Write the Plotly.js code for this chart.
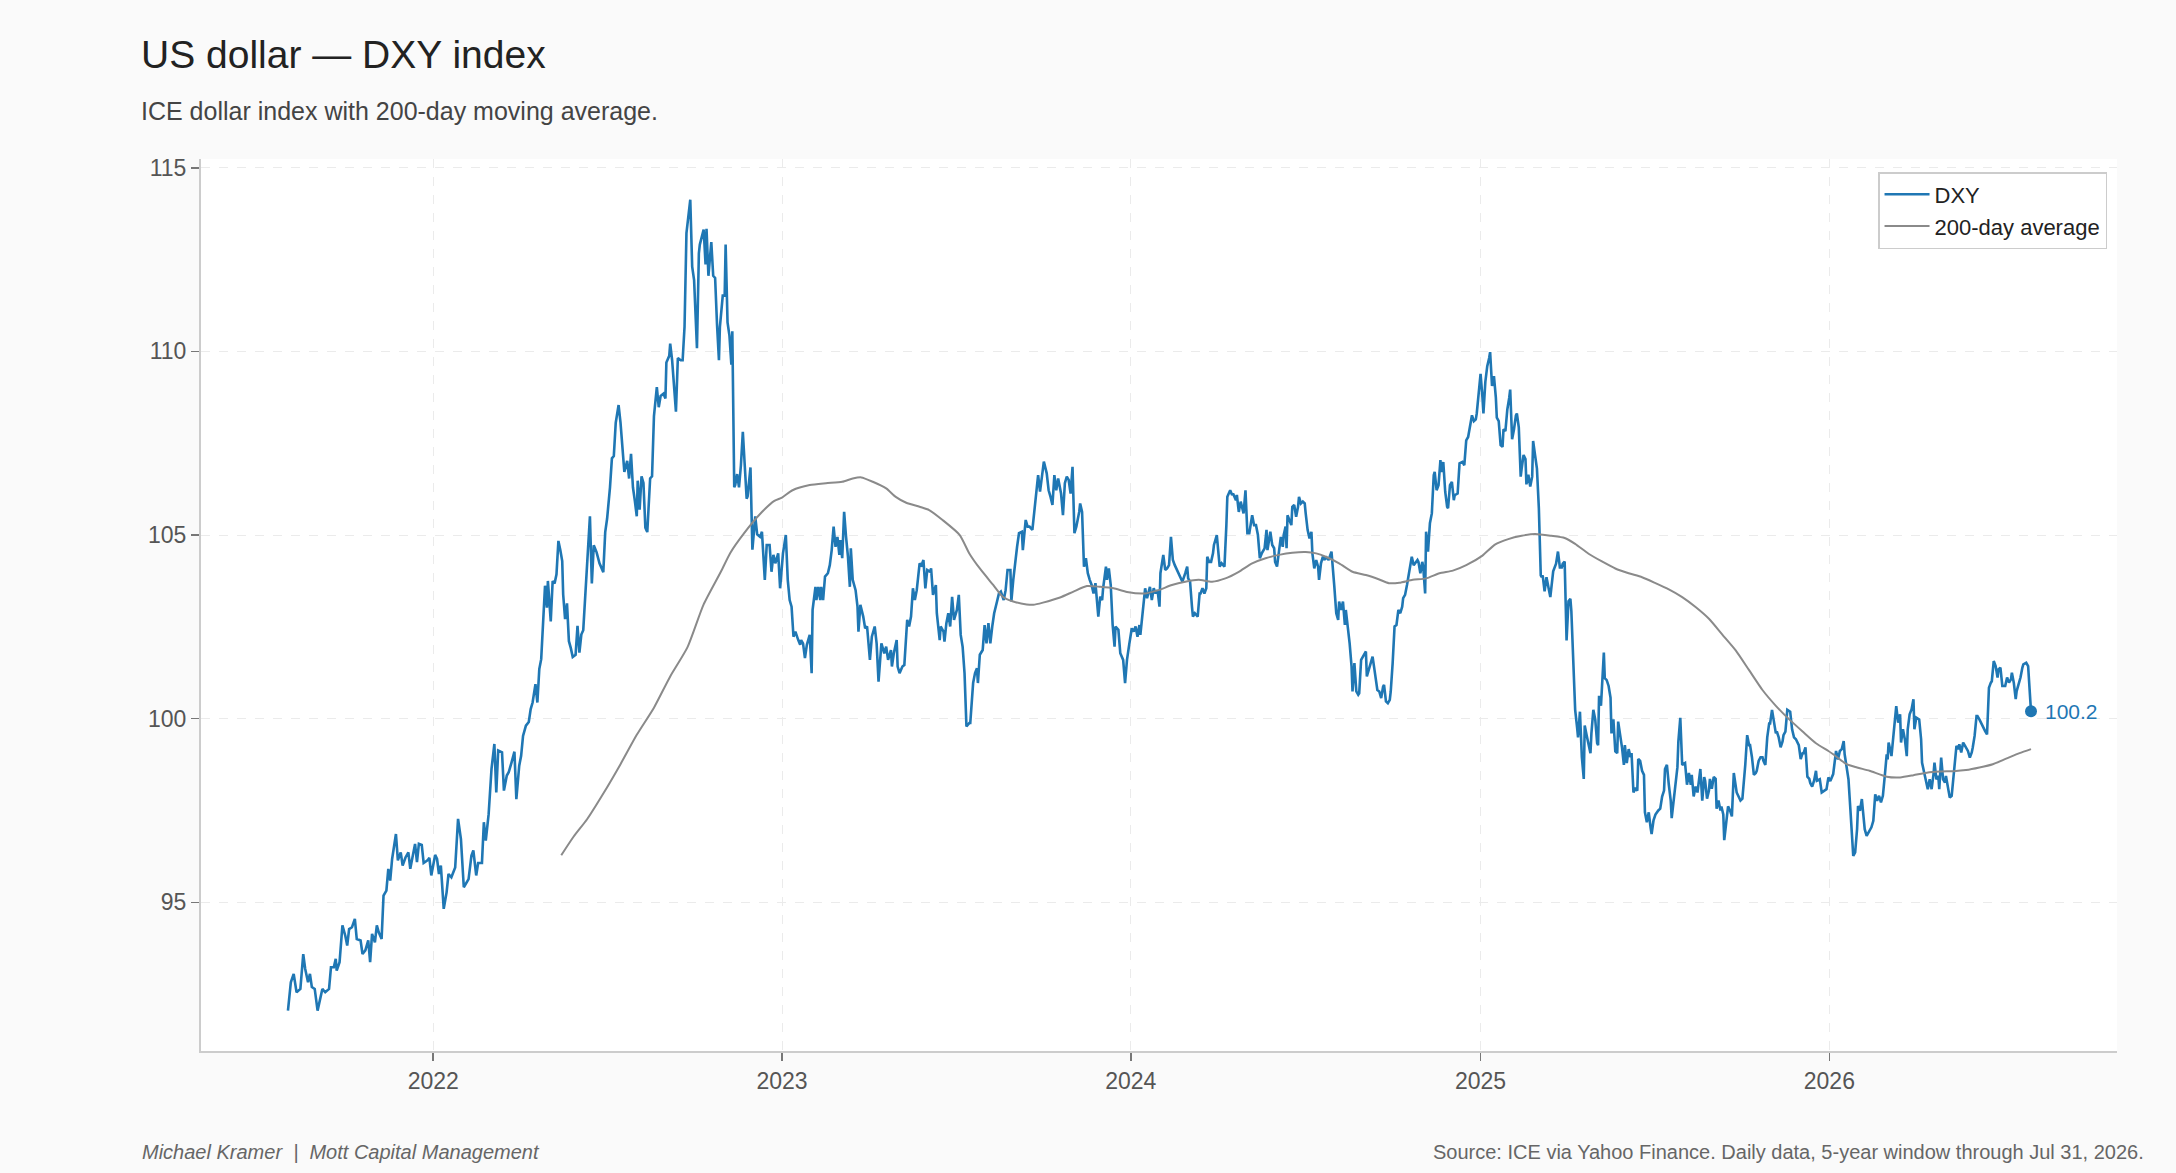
<!DOCTYPE html>
<html>
<head>
<meta charset="utf-8">
<script src="https://cdn.plot.ly/plotly-3.0.1.min.js"></script>
<style>
  html, body { margin: 0; padding: 0; background: #fafafa; }
  #chart { width: 2176px; height: 1173px; }
</style>
</head>
<body>
<div id="chart"></div>
<script>
// DXY closes, grouped by year (dates and values line up month by month)
const dates2021 = [
  '2021-08-02','2021-08-03','2021-08-05','2021-08-08','2021-08-11','2021-08-15','2021-08-18','2021-08-20','2021-08-23','2021-08-25','2021-08-27','2021-08-30',
  '2021-09-02','2021-09-07','2021-09-10','2021-09-14','2021-09-16','2021-09-19','2021-09-21','2021-09-22','2021-09-25','2021-09-28',
  '2021-10-01','2021-10-03','2021-10-05','2021-10-08','2021-10-11','2021-10-13','2021-10-17','2021-10-19','2021-10-22','2021-10-25','2021-10-27','2021-10-29',
  '2021-11-01','2021-11-03','2021-11-05','2021-11-08','2021-11-10','2021-11-13','2021-11-15','2021-11-17','2021-11-19','2021-11-23','2021-11-25','2021-11-28','2021-11-30',
  '2021-12-03','2021-12-06','2021-12-08','2021-12-11','2021-12-13','2021-12-15','2021-12-17','2021-12-20','2021-12-22','2021-12-26','2021-12-28','2021-12-30'
];
const values2021 = [
  92.05,92.28,92.82,93.05,92.55,92.64,93.59,93.19,92.82,93.05,92.69,92.64,
  92.05,92.64,92.55,92.64,93.23,93.23,93.46,93.14,93.37,94.37,
  94.09,93.82,94.27,94.32,94.55,94.00,93.96,93.59,93.69,93.96,93.37,94.14,
  93.91,94.37,94.18,94.00,95.18,95.32,95.91,95.59,96.18,96.86,96.14,96.36,96.00,
  96.22,96.36,95.91,96.32,96.59,96.09,96.59,96.56,96.07,96.14,96.21,95.73
];

const dates2022 = [
  '2022-01-03','2022-01-05','2022-01-07','2022-01-09','2022-01-12','2022-01-15','2022-01-17','2022-01-20','2022-01-24','2022-01-27','2022-01-30',
  '2022-02-02','2022-02-04','2022-02-07','2022-02-10','2022-02-12','2022-02-15','2022-02-17','2022-02-21','2022-02-23','2022-02-25','2022-02-28',
  '2022-03-03','2022-03-06','2022-03-08','2022-03-10','2022-03-14','2022-03-16','2022-03-19','2022-03-21','2022-03-24','2022-03-27','2022-03-29',
  '2022-04-01','2022-04-03','2022-04-05','2022-04-08','2022-04-11','2022-04-13','2022-04-15','2022-04-18','2022-04-20','2022-04-22','2022-04-24','2022-04-28','2022-04-30',
  '2022-05-01','2022-05-04','2022-05-06','2022-05-08','2022-05-10','2022-05-12','2022-05-14','2022-05-16','2022-05-17','2022-05-19','2022-05-21','2022-05-23','2022-05-25','2022-05-27','2022-05-30',
  '2022-06-01','2022-06-03','2022-06-05','2022-06-07','2022-06-11','2022-06-14','2022-06-16','2022-06-18','2022-06-21','2022-06-24','2022-06-28','2022-06-30',
  '2022-07-02','2022-07-05','2022-07-07','2022-07-09','2022-07-11','2022-07-14','2022-07-16','2022-07-19','2022-07-20','2022-07-23','2022-07-25','2022-07-27','2022-07-29','2022-07-31',
  '2022-08-02','2022-08-03','2022-08-05','2022-08-07','2022-08-09','2022-08-11','2022-08-13','2022-08-15','2022-08-16','2022-08-18','2022-08-20','2022-08-23','2022-08-25','2022-08-27','2022-08-30',
  '2022-09-01','2022-09-02','2022-09-05','2022-09-06','2022-09-08','2022-09-10','2022-09-12','2022-09-14','2022-09-17','2022-09-19','2022-09-21','2022-09-23','2022-09-27','2022-09-29',
  '2022-10-01','2022-10-04','2022-10-06','2022-10-07','2022-10-11','2022-10-13','2022-10-14','2022-10-16','2022-10-19','2022-10-21','2022-10-23','2022-10-25','2022-10-27','2022-10-28','2022-10-31',
  '2022-11-02','2022-11-03','2022-11-05','2022-11-07','2022-11-09','2022-11-10','2022-11-12','2022-11-13','2022-11-15','2022-11-17','2022-11-19','2022-11-21','2022-11-23','2022-11-25','2022-11-26','2022-11-29',
  '2022-12-01','2022-12-04','2022-12-06','2022-12-09','2022-12-11','2022-12-14','2022-12-16','2022-12-19','2022-12-21','2022-12-23','2022-12-25','2022-12-28','2022-12-30'
];
const values2022 = [
  96.29,96.18,95.77,96.00,94.82,95.27,95.77,95.68,95.95,97.27,96.72,
  95.41,95.50,95.63,96.27,96.41,95.73,96.07,96.07,97.18,96.68,97.40,
  98.63,99.31,97.99,99.13,99.08,98.04,98.45,98.54,98.81,99.10,97.81,
  98.72,98.99,99.53,99.81,99.91,100.26,100.44,100.94,100.44,101.35,101.62,103.62,103.02,
  103.75,102.65,103.75,103.68,103.93,104.84,104.59,104.29,103.38,102.71,103.14,102.11,101.92,101.68,101.74,
  102.53,101.80,102.29,102.41,104.23,105.51,103.68,104.72,104.53,104.23,103.99,105.08,
  105.45,106.30,107.09,107.15,108.06,108.54,108.06,107.02,106.72,107.02,106.54,107.21,106.30,105.93,
  105.51,106.48,105.69,106.60,106.42,105.20,105.08,106.05,106.54,106.60,108.24,109.03,108.48,108.79,108.85,
  108.72,109.70,109.88,110.21,109.76,108.91,108.36,109.82,109.76,109.76,110.67,113.22,114.13,112.31,
  111.94,110.09,112.67,112.91,113.32,112.37,113.34,112.06,112.98,112.06,112.00,110.73,109.76,110.67,111.52,
  111.52,112.91,110.79,110.43,109.64,110.55,106.30,106.36,106.66,106.30,106.90,107.81,106.90,105.99,106.05,106.84,
  104.60,105.51,105.02,104.95,105.09,103.78,104.73,104.73,104.00,104.46,104.23,104.50,103.55
];

const dates2023 = [
  '2023-01-02','2023-01-05','2023-01-07','2023-01-09','2023-01-11','2023-01-13','2023-01-15','2023-01-18','2023-01-20','2023-01-21','2023-01-23','2023-01-25','2023-01-27','2023-01-30',
  '2023-02-01','2023-02-02','2023-02-05','2023-02-06','2023-02-08','2023-02-10','2023-02-11','2023-02-13','2023-02-15','2023-02-18','2023-02-20','2023-02-22','2023-02-24','2023-02-26','2023-02-28',
  '2023-03-02','2023-03-03','2023-03-05','2023-03-07','2023-03-09','2023-03-11','2023-03-13','2023-03-14','2023-03-16','2023-03-19','2023-03-21','2023-03-22','2023-03-24','2023-03-27','2023-03-29','2023-03-31',
  '2023-04-03','2023-04-05','2023-04-08','2023-04-10','2023-04-12','2023-04-15','2023-04-18','2023-04-20','2023-04-22','2023-04-25','2023-04-26','2023-04-28',
  '2023-05-01','2023-05-02','2023-05-04','2023-05-07','2023-05-09','2023-05-12','2023-05-14','2023-05-16','2023-05-18','2023-05-20','2023-05-22','2023-05-25','2023-05-27','2023-05-29','2023-05-31',
  '2023-06-02','2023-06-05','2023-06-06','2023-06-08','2023-06-11','2023-06-12','2023-06-15','2023-06-16','2023-06-19','2023-06-20','2023-06-22','2023-06-24','2023-06-26','2023-06-28','2023-06-30',
  '2023-07-03','2023-07-05','2023-07-07','2023-07-09','2023-07-11','2023-07-13','2023-07-16','2023-07-17','2023-07-20','2023-07-22','2023-07-24','2023-07-25','2023-07-27','2023-07-30',
  '2023-08-01','2023-08-03','2023-08-05','2023-08-07','2023-08-09','2023-08-11','2023-08-14','2023-08-16','2023-08-18','2023-08-21','2023-08-23','2023-08-25','2023-08-28','2023-08-29','2023-08-31',
  '2023-09-02','2023-09-04','2023-09-06','2023-09-09','2023-09-10','2023-09-13','2023-09-15','2023-09-17','2023-09-20','2023-09-22','2023-09-24','2023-09-26','2023-09-28','2023-09-30',
  '2023-10-02','2023-10-05','2023-10-07','2023-10-09','2023-10-11','2023-10-13','2023-10-15','2023-10-17','2023-10-20','2023-10-22','2023-10-24','2023-10-26','2023-10-28','2023-10-30',
  '2023-11-01','2023-11-03','2023-11-05','2023-11-08','2023-11-09','2023-11-11','2023-11-13','2023-11-15','2023-11-17','2023-11-19','2023-11-21','2023-11-23','2023-11-25','2023-11-28','2023-11-30',
  '2023-12-02','2023-12-03','2023-12-06','2023-12-07','2023-12-09','2023-12-11','2023-12-13','2023-12-15','2023-12-16','2023-12-19','2023-12-21','2023-12-24','2023-12-26','2023-12-28','2023-12-30'
];
const values2023 = [
  104.50,105.00,103.78,103.23,103.05,102.23,102.37,102.14,102.01,102.14,102.05,101.65,102.01,102.28,
  101.24,102.96,103.59,103.23,103.59,103.23,103.59,103.23,103.87,103.96,104.18,104.59,105.23,104.68,104.95,
  104.46,104.86,104.37,105.63,104.95,104.41,103.59,104.64,103.78,103.50,103.05,102.37,103.10,102.78,102.46,102.51,
  101.60,102.23,102.51,102.05,101.01,102.05,101.78,101.96,101.60,101.87,101.42,101.78,
  102.14,101.42,101.24,101.42,101.46,102.69,102.51,102.78,103.55,103.23,103.50,104.23,104.18,104.32,103.55,
  104.05,104.00,104.09,103.37,103.64,102.87,102.14,102.51,102.37,102.10,102.60,102.87,102.51,103.32,102.69,
  102.96,103.37,102.28,101.96,101.24,99.79,99.88,99.88,100.97,101.24,101.37,100.97,101.74,101.87,
  102.55,102.05,102.60,102.05,102.51,102.87,103.19,103.41,103.46,103.23,103.50,104.05,104.05,103.19,103.78,
  104.27,104.68,105.05,105.09,104.59,105.41,105.23,105.23,105.14,105.59,106.13,106.63,106.18,106.59,
  107.00,106.68,106.22,106.04,105.82,106.63,106.22,106.54,106.13,105.54,106.41,106.59,106.50,106.13,
  106.86,105.05,105.23,105.63,105.86,105.63,104.14,104.37,103.96,103.78,103.64,103.41,103.69,102.78,103.32,
  103.23,103.55,104.14,103.78,104.09,103.64,102.55,101.96,102.51,102.42,101.78,101.60,100.97,101.60,101.96
];

const dates2024 = [
  '2024-01-02','2024-01-04','2024-01-06','2024-01-08','2024-01-10','2024-01-11','2024-01-14','2024-01-16','2024-01-18','2024-01-21','2024-01-23','2024-01-25','2024-01-27','2024-01-29','2024-01-31',
  '2024-02-01','2024-02-04','2024-02-06','2024-02-08','2024-02-10','2024-02-12','2024-02-14','2024-02-16','2024-02-19','2024-02-21','2024-02-24','2024-02-27','2024-02-29',
  '2024-03-01','2024-03-03','2024-03-05','2024-03-06','2024-03-08','2024-03-11','2024-03-13','2024-03-14','2024-03-16','2024-03-18','2024-03-20','2024-03-21','2024-03-23','2024-03-25','2024-03-27','2024-03-28','2024-03-31',
  '2024-04-02','2024-04-03','2024-04-05','2024-04-08','2024-04-10','2024-04-11','2024-04-14','2024-04-16','2024-04-17','2024-04-20','2024-04-21','2024-04-23','2024-04-25','2024-04-27','2024-04-28','2024-04-30',
  '2024-05-02','2024-05-04','2024-05-07','2024-05-09','2024-05-11','2024-05-13','2024-05-15','2024-05-17','2024-05-20','2024-05-22','2024-05-23','2024-05-26','2024-05-28','2024-05-30','2024-05-31',
  '2024-06-02','2024-06-04','2024-06-06','2024-06-08','2024-06-09','2024-06-11','2024-06-12','2024-06-13','2024-06-15','2024-06-17','2024-06-18','2024-06-20','2024-06-22','2024-06-24','2024-06-25','2024-06-27','2024-06-29',
  '2024-07-01','2024-07-02','2024-07-04','2024-07-06','2024-07-08','2024-07-09','2024-07-11','2024-07-13','2024-07-15','2024-07-16','2024-07-18','2024-07-20','2024-07-22','2024-07-23','2024-07-26','2024-07-29','2024-07-30',
  '2024-08-01','2024-08-03','2024-08-05','2024-08-06','2024-08-08','2024-08-10','2024-08-12','2024-08-13','2024-08-15','2024-08-17','2024-08-19','2024-08-20','2024-08-22','2024-08-24','2024-08-26','2024-08-27','2024-08-29',
  '2024-09-01','2024-09-03','2024-09-04','2024-09-07','2024-09-09','2024-09-10','2024-09-12','2024-09-14','2024-09-15','2024-09-17','2024-09-19','2024-09-21','2024-09-22','2024-09-24','2024-09-26','2024-09-28','2024-09-29',
  '2024-10-01','2024-10-03','2024-10-05','2024-10-07','2024-10-09','2024-10-11','2024-10-12','2024-10-14','2024-10-16','2024-10-18','2024-10-19','2024-10-21','2024-10-23','2024-10-25','2024-10-27','2024-10-28','2024-10-30',
  '2024-11-01','2024-11-02','2024-11-04','2024-11-05','2024-11-07','2024-11-09','2024-11-11','2024-11-13','2024-11-14','2024-11-16','2024-11-18','2024-11-20','2024-11-21','2024-11-23','2024-11-25','2024-11-27','2024-11-28','2024-11-30',
  '2024-12-02','2024-12-04','2024-12-05','2024-12-08','2024-12-10','2024-12-13','2024-12-15','2024-12-17','2024-12-19','2024-12-21','2024-12-23','2024-12-25','2024-12-27','2024-12-28','2024-12-30'
];
const values2024 = [
  102.46,102.37,102.51,102.23,102.55,102.28,103.05,103.55,103.28,103.59,103.23,103.55,103.41,103.50,103.05,
  103.96,104.46,104.05,104.09,104.18,104.95,104.32,104.18,104.00,103.87,103.73,103.96,104.14,
  103.82,103.73,103.05,102.78,102.87,102.78,103.41,103.41,103.55,103.41,103.55,104.41,104.27,104.27,104.50,104.73,105.00,
  104.32,104.14,104.23,104.14,105.27,106.04,106.22,106.09,106.13,105.95,106.09,105.63,105.91,105.63,105.59,106.22,
  105.05,105.05,105.54,105.27,105.27,105.00,104.37,104.50,104.64,105.14,104.59,105.09,104.73,104.64,104.27,
  104.14,104.50,104.95,104.68,105.00,105.23,104.64,105.54,105.41,105.27,105.77,105.82,105.50,105.77,106.04,105.86,105.91,
  105.86,105.59,105.14,104.91,105.09,104.50,104.09,104.32,104.14,103.78,104.23,104.41,104.32,104.41,104.32,104.55,104.14,
  103.59,102.87,102.69,103.19,102.96,103.19,102.55,102.96,102.51,102.05,101.42,100.74,101.51,100.74,100.65,100.69,101.60,
  101.74,101.83,101.15,101.42,101.60,101.69,101.33,100.97,100.78,100.74,100.56,100.87,100.92,100.47,100.42,100.51,100.74,
  101.51,102.51,102.55,102.96,102.87,103.05,103.28,103.37,103.64,103.96,104.14,104.41,104.18,104.27,104.32,104.27,103.96,
  104.27,104.14,103.41,105.09,104.55,105.32,105.59,106.63,106.72,106.22,106.36,107.04,106.72,106.99,106.18,105.77,105.73,106.36,
  106.45,105.95,106.09,106.13,106.95,106.99,106.90,107.58,107.67,107.99,108.26,108.10,108.15,108.31,108.96
];

const dates2025 = [
  '2025-01-01','2025-01-03','2025-01-04','2025-01-06','2025-01-08','2025-01-10','2025-01-11','2025-01-13','2025-01-15','2025-01-17','2025-01-18','2025-01-20','2025-01-22','2025-01-24','2025-01-25','2025-01-27','2025-01-29','2025-01-31',
  '2025-02-01','2025-02-03','2025-02-05','2025-02-07','2025-02-08','2025-02-10','2025-02-12','2025-02-13','2025-02-15','2025-02-17','2025-02-18','2025-02-20','2025-02-22','2025-02-24','2025-02-25','2025-02-27',
  '2025-03-01','2025-03-03','2025-03-04','2025-03-05','2025-03-06','2025-03-07','2025-03-09','2025-03-11','2025-03-13','2025-03-15','2025-03-18','2025-03-20','2025-03-21','2025-03-23','2025-03-25','2025-03-27','2025-03-28','2025-03-30',
  '2025-04-01','2025-04-03','2025-04-05','2025-04-06','2025-04-08','2025-04-10','2025-04-12','2025-04-13','2025-04-15','2025-04-17','2025-04-19','2025-04-20','2025-04-22','2025-04-24','2025-04-26','2025-04-27','2025-04-29',
  '2025-05-01','2025-05-03','2025-05-04','2025-05-05','2025-05-07','2025-05-09','2025-05-10','2025-05-11','2025-05-13','2025-05-15','2025-05-17','2025-05-18','2025-05-20','2025-05-22','2025-05-24','2025-05-25','2025-05-27','2025-05-29','2025-05-31',
  '2025-06-01','2025-06-03','2025-06-05','2025-06-07','2025-06-08','2025-06-10','2025-06-12','2025-06-14','2025-06-15','2025-06-17','2025-06-19','2025-06-21','2025-06-22','2025-06-24','2025-06-26','2025-06-28','2025-06-29',
  '2025-07-01','2025-07-03','2025-07-06','2025-07-08','2025-07-10','2025-07-12','2025-07-13','2025-07-15','2025-07-17','2025-07-19','2025-07-20','2025-07-22','2025-07-24','2025-07-26','2025-07-27','2025-07-29','2025-07-31',
  '2025-08-02','2025-08-03','2025-08-05','2025-08-07','2025-08-09','2025-08-10','2025-08-12','2025-08-14','2025-08-16','2025-08-17','2025-08-19','2025-08-21','2025-08-23','2025-08-24','2025-08-26','2025-08-28','2025-08-29','2025-08-31',
  '2025-09-02','2025-09-04','2025-09-05','2025-09-07','2025-09-09','2025-09-10','2025-09-12','2025-09-13','2025-09-15','2025-09-17','2025-09-19','2025-09-21','2025-09-23','2025-09-25','2025-09-26','2025-09-28','2025-09-30',
  '2025-10-02','2025-10-03','2025-10-05','2025-10-07','2025-10-09','2025-10-10','2025-10-12','2025-10-14','2025-10-16','2025-10-17','2025-10-19','2025-10-21','2025-10-23','2025-10-24','2025-10-26','2025-10-28','2025-10-30','2025-10-31',
  '2025-11-02','2025-11-04','2025-11-06','2025-11-07','2025-11-09','2025-11-11','2025-11-13','2025-11-14','2025-11-16','2025-11-18','2025-11-20','2025-11-21','2025-11-23','2025-11-25','2025-11-27','2025-11-28','2025-11-30',
  '2025-12-02','2025-12-04','2025-12-05','2025-12-07','2025-12-09','2025-12-11','2025-12-12','2025-12-14','2025-12-16','2025-12-18','2025-12-19','2025-12-22','2025-12-24','2025-12-26','2025-12-29','2025-12-31'
];
const values2025 = [
  109.39,108.74,108.31,109.17,109.60,109.82,109.98,109.06,109.33,108.74,108.20,108.10,107.45,107.40,107.88,107.83,108.42,108.74,
  108.96,107.61,107.88,108.26,108.31,107.93,106.59,106.81,107.18,107.07,106.38,106.64,106.32,106.59,107.56,107.18,
  106.81,105.73,104.98,103.90,103.85,103.90,103.47,103.85,103.58,103.31,104.01,104.17,104.22,104.55,104.12,104.12,104.22,104.28,
  102.13,103.20,103.26,102.93,101.53,100.24,99.76,99.49,100.19,98.95,98.36,99.81,99.55,99.28,99.06,99.60,100.24,
  99.98,99.33,99.28,100.62,100.35,101.27,101.80,101.10,101.05,100.89,100.57,99.60,99.98,99.11,99.06,99.92,99.60,99.22,98.74,
  99.28,98.79,99.17,98.95,99.06,97.99,98.09,98.04,98.90,98.85,98.58,98.47,97.45,97.18,97.45,97.02,96.86,
  97.23,97.39,97.50,97.55,97.88,98.04,98.63,98.74,98.20,97.77,97.29,97.72,98.20,98.68,99.38,100.02,98.74,
  98.79,98.79,98.20,98.52,98.20,98.47,97.88,98.15,97.99,98.20,98.63,97.77,98.41,98.31,97.82,98.04,98.36,98.09,
  98.41,98.36,97.55,97.77,97.50,97.61,97.39,96.69,97.13,97.61,97.50,97.34,98.52,98.20,97.99,97.88,97.77,
  97.82,98.09,98.74,99.55,99.28,99.28,98.95,98.47,98.52,98.58,98.85,98.95,98.95,98.85,98.74,99.49,99.87,99.87,
  100.24,99.92,99.60,99.65,99.49,99.22,99.38,99.55,99.65,100.24,100.19,100.19,99.71,99.49,99.44,99.38,99.28,
  98.90,99.06,99.06,99.22,98.42,98.36,98.25,98.15,98.31,98.58,98.31,98.35,97.99,98.03,98.08,98.40
];

const dates2026 = [
  '2026-01-02','2026-01-05','2026-01-07','2026-01-08','2026-01-10','2026-01-12','2026-01-14','2026-01-16','2026-01-17','2026-01-19','2026-01-21','2026-01-23','2026-01-24','2026-01-26','2026-01-28','2026-01-30','2026-01-31',
  '2026-02-02','2026-02-04','2026-02-05','2026-02-07','2026-02-09','2026-02-11','2026-02-14','2026-02-16','2026-02-18','2026-02-20','2026-02-22','2026-02-24','2026-02-26','2026-02-28',
  '2026-03-02','2026-03-03','2026-03-04','2026-03-06','2026-03-07','2026-03-09','2026-03-12','2026-03-14','2026-03-16','2026-03-17','2026-03-19','2026-03-21','2026-03-23','2026-03-24','2026-03-26','2026-03-28','2026-03-30','2026-03-31',
  '2026-04-02','2026-04-05','2026-04-07','2026-04-08','2026-04-11','2026-04-13','2026-04-14','2026-04-16','2026-04-18','2026-04-20','2026-04-21','2026-04-23','2026-04-25','2026-04-26','2026-04-28','2026-04-30',
  '2026-05-02','2026-05-03','2026-05-05','2026-05-07','2026-05-09','2026-05-10','2026-05-12','2026-05-14','2026-05-16','2026-05-17','2026-05-19','2026-05-21','2026-05-23','2026-05-24','2026-05-26','2026-05-28','2026-05-30','2026-05-31',
  '2026-06-02','2026-06-04','2026-06-05','2026-06-07','2026-06-10','2026-06-13','2026-06-15','2026-06-17','2026-06-19','2026-06-20','2026-06-22','2026-06-24','2026-06-26','2026-06-27','2026-06-29',
  '2026-07-01','2026-07-03','2026-07-04','2026-07-06','2026-07-08','2026-07-10','2026-07-11','2026-07-13','2026-07-15','2026-07-16','2026-07-18','2026-07-20','2026-07-22','2026-07-23','2026-07-26','2026-07-28','2026-07-31'
];
const values2026 = [
  98.30,98.49,98.89,99.12,98.89,99.12,99.17,99.39,99.03,98.71,98.35,97.53,97.08,96.26,96.36,96.99,97.62,
  97.49,97.81,97.44,96.99,96.81,96.90,97.04,97.22,97.94,97.76,97.90,97.72,97.90,98.44,
  99.03,98.89,99.35,99.12,98.98,99.53,100.34,99.89,100.12,99.35,99.71,99.44,98.98,99.71,100.12,100.25,100.53,99.71,
  100.03,99.98,99.44,98.80,98.44,98.12,98.08,98.35,98.08,98.49,98.80,98.35,98.44,98.08,98.94,98.35,
  98.26,98.44,98.08,97.85,97.90,98.17,98.71,99.26,99.17,99.30,99.08,99.35,99.26,99.21,99.12,98.94,99.08,99.21,
  99.53,100.07,100.07,99.98,99.80,99.66,99.57,100.84,100.98,101.02,101.57,101.43,101.12,101.34,101.39,
  100.89,100.89,100.89,101.12,100.98,101.07,101.25,100.98,100.53,100.75,100.93,101.12,101.39,101.48,101.52,101.43,100.20
];

// 200-day moving average
const maDates = [
  '2022-05-15','2022-05-28','2022-06-11','2022-06-28','2022-07-16','2022-08-02','2022-08-20','2022-09-06','2022-09-24','2022-10-11','2022-10-29','2022-11-08','2022-11-22','2022-12-10','2022-12-24',
  '2023-01-01','2023-01-12','2023-01-30','2023-02-16','2023-03-05','2023-03-16','2023-03-25','2023-04-06','2023-04-20','2023-04-30','2023-05-11','2023-05-25','2023-06-04','2023-06-18',
  '2023-07-06','2023-07-16','2023-07-27','2023-08-10','2023-08-20','2023-08-31','2023-09-14','2023-09-21','2023-10-01','2023-10-19','2023-11-02','2023-11-16','2023-11-30','2023-12-14','2023-12-28',
  '2024-01-16','2024-01-30','2024-02-13','2024-02-27','2024-03-12','2024-03-26','2024-04-09','2024-04-23','2024-05-07','2024-05-21','2024-06-04','2024-06-18','2024-07-02','2024-07-13',
  '2024-07-23','2024-08-06','2024-08-20','2024-09-03','2024-09-17','2024-09-27','2024-10-08','2024-10-22','2024-11-05','2024-11-19','2024-12-03','2024-12-17',
  '2025-01-03','2025-01-16','2025-01-30','2025-02-13','2025-02-27','2025-03-16','2025-03-30','2025-04-10','2025-04-24','2025-05-08','2025-05-22','2025-06-05','2025-06-19',
  '2025-07-03','2025-07-17','2025-07-31','2025-08-14','2025-08-28','2025-09-11','2025-09-25','2025-10-09','2025-10-23','2025-11-06','2025-11-20','2025-12-04','2025-12-18','2025-12-31',
  '2026-01-05','2026-01-19','2026-01-30','2026-02-12','2026-03-02','2026-03-16','2026-03-30','2026-04-13','2026-04-27','2026-05-11','2026-05-24','2026-06-07','2026-06-21','2026-07-05','2026-07-19','2026-07-31'
];
const maValues = [
  96.28,96.79,97.26,97.96,98.76,99.56,100.30,101.15,101.94,103.11,104.00,104.52,105.04,105.60,105.93,
  106.02,106.22,106.36,106.41,106.45,106.54,106.57,106.45,106.27,106.04,105.88,105.77,105.68,105.41,
  105.00,104.50,104.09,103.64,103.32,103.19,103.11,103.10,103.16,103.30,103.46,103.61,103.59,103.55,103.45,
  103.41,103.50,103.64,103.73,103.78,103.73,103.82,104.00,104.23,104.37,104.46,104.52,104.54,104.50,
  104.41,104.23,104.00,103.91,103.79,103.69,103.70,103.78,103.82,103.96,104.03,104.18,
  104.44,104.74,104.89,104.98,105.03,104.98,104.92,104.76,104.49,104.28,104.09,103.96,103.85,
  103.69,103.52,103.31,103.04,102.72,102.29,101.86,101.32,100.78,100.35,99.98,99.65,99.33,99.12,
  99.03,98.76,98.67,98.58,98.42,98.40,98.46,98.53,98.56,98.57,98.60,98.67,98.76,98.91,99.06,99.17
];

const yTicks = [95, 100, 105, 110, 115];

const dxyDates = [...dates2021, ...dates2022, ...dates2023, ...dates2024, ...dates2025, ...dates2026];
const dxyValues = [...values2021, ...values2022, ...values2023, ...values2024, ...values2025, ...values2026];
const lastDate = dxyDates[dxyDates.length - 1];
const lastValue = dxyValues[dxyValues.length - 1];

const BLUE = '#1f77b4';
const FONT = 'Liberation Sans, Arial, Helvetica, sans-serif';

const traces = [
    {
        x: dxyDates,
        y: dxyValues,
        name: 'DXY',
        type: 'scatter',
        mode: 'lines',
        line: { color: BLUE, width: 2.6 },
        hoverinfo: 'skip'
    },
    {
        x: maDates,
        y: maValues,
        name: '200-day average',
        type: 'scatter',
        mode: 'lines',
        line: { color: '#8a8a8a', width: 2, shape: 'spline', smoothing: 0.6 },
        hoverinfo: 'skip'
    },
    {
        // Marker on the latest close
        x: [lastDate],
        y: [lastValue],
        type: 'scatter',
        mode: 'markers',
        marker: { color: BLUE, size: 12 },
        showlegend: false,
        hoverinfo: 'skip'
    }
];

const layout = {
    width: 2176,
    height: 1173,
    paper_bgcolor: '#fafafa',
    plot_bgcolor: '#ffffff',
    font: { family: FONT, size: 22, color: '#333' },
    margin: { l: 201, r: 59, t: 159, b: 122 },
    showlegend: true,
    legend: {
        x: 0.9948, y: 0.9854,
        xanchor: 'right', yanchor: 'top',
        bgcolor: '#ffffff',
        bordercolor: '#cccccc',
        borderwidth: 1.5,
        itemwidth: 45,
        font: { family: FONT, size: 22, color: '#222' }
    },
    xaxis: {
        type: 'date',
        range: ['2021-05-03', '2026-10-29'],
        tick0: '2022-01-01',
        dtick: 'M12',
        tickformat: '%Y',
        showgrid: true,
        gridcolor: '#ebebeb',
        griddash: 'dash',
        gridwidth: 1,
        showline: true,
        linecolor: '#cccccc',
        linewidth: 2,
        ticks: 'outside',
        ticklen: 8,
        tickwidth: 1.5,
        tickcolor: '#777',
        tickfont: { family: FONT, size: 23, color: '#555' },
        zeroline: false
    },
    yaxis: {
        range: [90.95, 115.24],
        tickvals: yTicks,
        showgrid: true,
        gridcolor: '#ebebeb',
        griddash: 'dash',
        gridwidth: 1,
        showline: true,
        linecolor: '#cccccc',
        linewidth: 2,
        ticks: 'outside',
        ticklen: 8,
        tickwidth: 1.5,
        tickcolor: '#777',
        tickfont: { family: FONT, size: 23, color: '#555' },
        zeroline: false
    },
    annotations: [
        {
            text: 'US dollar — DXY index',
            xref: 'paper', yref: 'paper',
            x: -0.0324, y: 1.1166,
            xanchor: 'left', yanchor: 'middle',
            showarrow: false,
            font: { family: FONT, size: 39, color: '#222' }
        },
        {
            text: 'ICE dollar index with 200-day moving average.',
            xref: 'paper', yref: 'paper',
            x: -0.0324, y: 1.0538,
            xanchor: 'left', yanchor: 'middle',
            showarrow: false,
            font: { family: FONT, size: 25, color: '#444' }
        },
        {
            text: '<i>Michael Kramer  |  Mott Capital Management</i>',
            xref: 'paper', yref: 'paper',
            x: -0.0318, y: -0.1132,
            xanchor: 'left', yanchor: 'middle',
            showarrow: false,
            font: { family: FONT, size: 20, color: '#666' }
        },
        {
            text: 'Source: ICE via Yahoo Finance. Daily data, 5-year window through Jul 31, 2026.',
            xref: 'paper', yref: 'paper',
            x: 1.0151, y: -0.1132,
            xanchor: 'right', yanchor: 'middle',
            showarrow: false,
            font: { family: FONT, size: 20, color: '#666' }
        },
        {
            text: lastValue.toFixed(1),
            x: lastDate, y: lastValue,
            xref: 'x', yref: 'y',
            xanchor: 'left', yanchor: 'middle',
            xshift: 12,
            showarrow: false,
            font: { family: FONT, size: 21, color: BLUE }
        }
    ]
};

Plotly.newPlot('chart', traces, layout, { displayModeBar: false, staticPlot: true });
</script>
</body>
</html>
